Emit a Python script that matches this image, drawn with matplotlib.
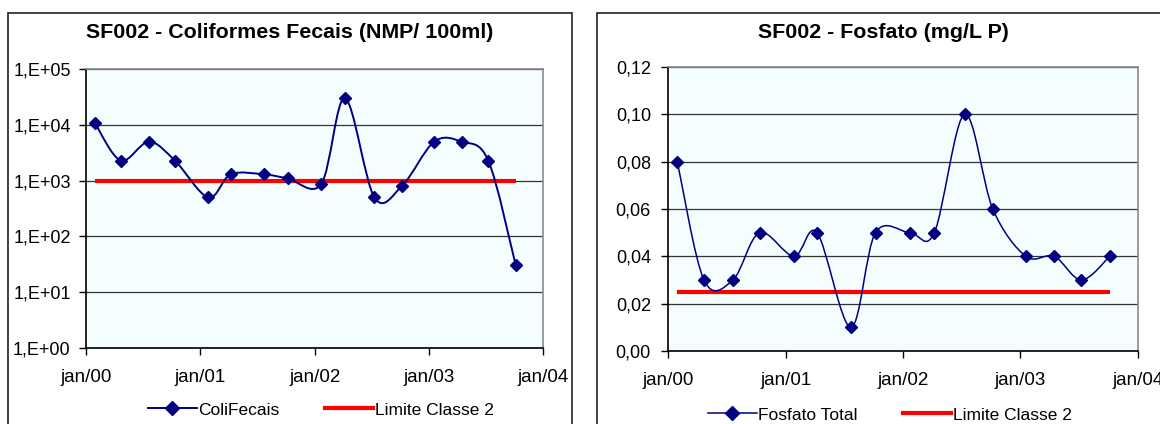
import datetime as dt
import matplotlib
matplotlib.use('Agg')
import matplotlib.pyplot as plt
import matplotlib.dates as mdates
from matplotlib.lines import Line2D
from matplotlib.patches import Rectangle, PathPatch
from matplotlib.path import Path
from matplotlib.ticker import FixedLocator, FuncFormatter
import numpy as np

plt.rcParams['font.family'] = ['Liberation Sans', 'DejaVu Sans']

# sample dates (both charts share them)
datas = [dt.datetime(2000, 1, 29), dt.datetime(2000, 4, 21), dt.datetime(2000, 7, 20),
         dt.datetime(2000, 10, 11), dt.datetime(2001, 1, 26), dt.datetime(2001, 4, 8),
         dt.datetime(2001, 7, 22), dt.datetime(2001, 10, 7), dt.datetime(2002, 1, 22),
         dt.datetime(2002, 4, 8), dt.datetime(2002, 7, 11), dt.datetime(2002, 10, 7),
         dt.datetime(2003, 1, 18), dt.datetime(2003, 4, 16), dt.datetime(2003, 7, 10),
         dt.datetime(2003, 10, 6)]

coli_fecais = [11000, 2300, 5000, 2300, 500, 1300, 1300, 1100,
               870, 30000, 500, 800, 5000, 5000, 2300, 30]
limite_coli = 1000

fosfato_total = [0.08, 0.03, 0.03, 0.05, 0.04, 0.05, 0.01, 0.05,
                 0.05, 0.05, 0.10, 0.06, 0.04, 0.04, 0.03, 0.04]
limite_fosfato = 0.025

ticks_x = [dt.datetime(y, 1, 1) for y in range(2000, 2005)]
ticks_coli = [1, 10, 100, 1000, 10000, 100000]
ticks_fosfato = [0.0, 0.02, 0.04, 0.06, 0.08, 0.10, 0.12]

NAVY = '#000080'
RED = '#ff0000'
BG = '#f4fefe'


def smooth_path(x, y, log=False):
    # excel style smoothed line: cubic bezier with control points from neighbours / 6
    x = np.asarray(x, float)
    y = np.asarray(y, float)
    if log:
        y = np.log10(y)
    p = np.column_stack([x, y])
    n = len(p)
    verts = [p[0]]
    codes = [Path.MOVETO]
    for i in range(n - 1):
        p0 = p[i - 1] if i > 0 else p[i]
        p3 = p[i + 2] if i + 2 < n else p[i + 1]
        c1 = p[i] + (p[i + 1] - p0) / 6.0
        c2 = p[i + 1] - (p3 - p[i]) / 6.0
        verts += [c1, c2, p[i + 1]]
        codes += [Path.CURVE4] * 3
    verts = np.array(verts)
    if log:
        verts[:, 1] = 10 ** verts[:, 1]
    return Path(verts, codes)


def draw_chart(ax, valores, limite, log, lw):
    ax.set_facecolor(BG)
    xnum = mdates.date2num(datas)
    ax.plot([datas[0], datas[-1]], [limite, limite], color=RED, lw=3, zorder=3,
            solid_capstyle='butt')
    ax.add_patch(PathPatch(smooth_path(xnum, valores, log), fill=False,
                           edgecolor=NAVY, lw=lw, zorder=4))
    ax.plot(datas, valores, ls='none', marker='D', ms=6.3, color=NAVY,
            markeredgecolor=NAVY, zorder=5)

    ax.set_xlim(ticks_x[0], ticks_x[-1])
    ax.xaxis.set_major_locator(FixedLocator(mdates.date2num(ticks_x)))
    ax.xaxis.set_major_formatter(mdates.DateFormatter('jan/%y'))
    ax.tick_params(axis='both', direction='out', length=5, width=1, labelsize=13,
                   color='black')
    ax.tick_params(axis='x', pad=10, labelsize=13.5)
    ax.grid(axis='y', color='#333333', lw=0.9, zorder=1)
    ax.set_axisbelow(True)
    for s in ['top', 'right']:
        ax.spines[s].set_color('#8a8a8a')
        ax.spines[s].set_linewidth(1.2)
    for s in ['left', 'bottom']:
        ax.spines[s].set_color('black')
        ax.spines[s].set_linewidth(1.2)

    handles = [Line2D([], [], color=NAVY, lw=lw, marker='D', ms=7),
               Line2D([], [], color=RED, lw=3)]
    return handles


fig = plt.figure(figsize=(11.6, 4.24), dpi=100)
W, H = 1160, 424

# chart frames
fig.add_artist(Rectangle((8 / W, -0.1), (572 - 8) / W, 1.1 - 13 / H, transform=fig.transFigure,
                         fill=False, edgecolor='#222222', lw=1.2))
fig.add_artist(Rectangle((597 / W, -0.1), 0.6, 1.1 - 13 / H, transform=fig.transFigure,
                         fill=False, edgecolor='#222222', lw=1.2))

# left chart: coliformes
ax1 = fig.add_axes([86 / W, 1 - 347.7 / H, (543 - 86) / W, (347.7 - 69.3) / H])
ax1.set_yscale('log')
h1 = draw_chart(ax1, coli_fecais, limite_coli, True, 1.4)
ax1.set_ylim(1, 100000)
ax1.yaxis.set_major_locator(FixedLocator(ticks_coli))
ax1.yaxis.set_minor_locator(FixedLocator([]))
ax1.yaxis.set_major_formatter(FuncFormatter(lambda v, p: '1,E+%02d' % round(np.log10(v))))
ax1.tick_params(axis='y', pad=6)
fig.text(290 / W, 1 - 33 / H, 'SF002 - Coliformes Fecais (NMP/ 100ml)', ha='center',
         va='center', fontsize=15.4, fontweight='bold')
ax1.legend(h1, ['ColiFecais', 'Limite Classe 2'], loc='center',
           bbox_to_anchor=(321 / W, 1 - 410 / H), bbox_transform=fig.transFigure,
           ncol=2, frameon=False, fontsize=12.5, handlelength=2.8, handletextpad=0.1,
           columnspacing=2.6)

# right chart: fosfato
ax2 = fig.add_axes([668.3 / W, 1 - 351 / H, (1137.7 - 668.3) / W, (351 - 67) / H])
h2 = draw_chart(ax2, fosfato_total, limite_fosfato, False, 1.1)
ax2.set_ylim(0, 0.12)
ax2.yaxis.set_major_locator(FixedLocator(ticks_fosfato))
ax2.yaxis.set_major_formatter(FuncFormatter(lambda v, p: ('%.2f' % v).replace('.', ',')))
ax2.tick_params(axis='y', pad=7.5)
fig.text(883 / W, 1 - 33 / H, 'SF002 - Fosfato (mg/L P)', ha='center',
         va='center', fontsize=15.4, fontweight='bold')
ax2.legend(h2, ['Fosfato Total', 'Limite Classe 2'], loc='center',
           bbox_to_anchor=(890 / W, 1 - 415 / H), bbox_transform=fig.transFigure,
           ncol=2, frameon=False, fontsize=12.5, handlelength=2.8, handletextpad=0.1,
           columnspacing=2.6)

fig.savefig('out.png', dpi=100)
